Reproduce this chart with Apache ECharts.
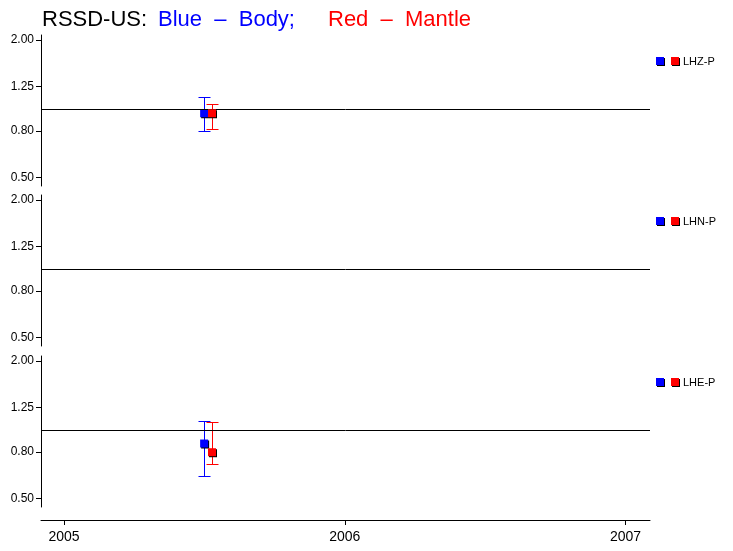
<!DOCTYPE html>
<html>
<head>
<meta charset="utf-8">
<script src="https://cdn.jsdelivr.net/npm/echarts@6/dist/echarts.min.js"></script>
<style>
  html, body { margin: 0; padding: 0; background: #fff; }
  #chart { width: 733px; height: 551px; }
</style>
</head>
<body>
<div id="chart"></div>
<script>
// channels, one panel each
const components = ['LHZ-P', 'LHN-P', 'LHE-P'];
// decimal year of the measurement (body / mantle drawn side by side)
const bodyTime = 2005.499;
const mantleTime = 2005.527;
// amplitude ratios per panel (null = no data)
const bodyValue = [0.956, null, 0.871];
const bodyLow = [0.799, null, 0.627];
const bodyHigh = [1.125, null, 1.095];
const mantleValue = [0.956, null, 0.798];
const mantleLow = [0.818, null, 0.710];
const mantleHigh = [1.048, null, 1.084];
// axis ticks
const yTicks = [0.5, 0.8, 1.25, 2.0];
const xTicks = [2005, 2006, 2007];

const BLUE = '#0000ff';
const RED = '#ff0000';
const FONT = 'Liberation Sans';

const panelTops = [35, 195, 356];
const panelHeight = 151;

function errorBar(color) {
  return function (params, api) {
    const x = api.value(0);
    const top = api.coord([x, api.value(2)]);
    const bot = api.coord([x, api.value(1)]);
    const px = Math.round(top[0]) + 0.5;
    const t = Math.round(top[1]) + 0.5;
    const b = Math.round(bot[1]) + 0.5;
    const st = { stroke: color, lineWidth: 1 };
    return {
      type: 'group',
      children: [
        { type: 'line', shape: { x1: px, y1: t, x2: px, y2: b }, style: st },
        { type: 'line', shape: { x1: px - 6, y1: t, x2: px + 6, y2: t }, style: st },
        { type: 'line', shape: { x1: px - 6, y1: b, x2: px + 6, y2: b }, style: st }
      ]
    };
  };
}

const grids = [], xAxes = [], yAxes = [], series = [], graphics = [];

components.forEach((name, i) => {
  grids.push({ left: 41, right: 83, top: panelTops[i], height: panelHeight });
  const last = i === components.length - 1;
  xAxes.push({
    type: 'value',
    gridIndex: i,
    min: 2004.918,
    max: 2007.087,
    show: last,
    offset: last ? 13 : 0,
    splitLine: { show: false },
    axisLine: { show: true, onZero: false, lineStyle: { color: '#000', width: 1 } },
    axisTick: { show: true, length: 5, customValues: xTicks, lineStyle: { color: '#000' } },
    axisLabel: {
      customValues: xTicks,
      color: '#000',
      fontFamily: FONT,
      fontSize: 14,
      margin: 10,
      formatter: v => String(Math.round(v))
    }
  });
  yAxes.push({
    type: 'log',
    gridIndex: i,
    min: 0.46,
    max: 2.1,
    splitLine: { show: false },
    axisLine: { show: true, lineStyle: { color: '#000', width: 1 } },
    axisTick: { show: true, length: 5, customValues: yTicks, lineStyle: { color: '#000' } },
    axisLabel: {
      customValues: yTicks,
      color: '#000',
      fontFamily: FONT,
      fontSize: 12,
      margin: 7,
      formatter: v => Number(v).toFixed(2)
    }
  });

  const hasData = bodyValue[i] != null;
  series.push({
    type: 'custom',
    xAxisIndex: i, yAxisIndex: i,
    renderItem: errorBar(BLUE),
    z: 2,
    data: hasData ? [[bodyTime, bodyLow[i], bodyHigh[i]]] : [],
    markLine: {
      silent: true,
      symbol: 'none',
      label: { show: false },
      lineStyle: { color: '#000', width: 1, type: 'solid' },
      data: [{ yAxis: 1 }]
    }
  });
  series.push({
    type: 'custom',
    xAxisIndex: i, yAxisIndex: i,
    renderItem: errorBar(RED),
    z: 3,
    data: hasData ? [[mantleTime, mantleLow[i], mantleHigh[i]]] : []
  });
  series.push({
    type: 'scatter',
    xAxisIndex: i, yAxisIndex: i,
    symbol: 'rect',
    symbolSize: 8,
    z: 4,
    itemStyle: { color: BLUE, opacity: 1, shadowColor: '#000', shadowOffsetX: 1, shadowOffsetY: 1, shadowBlur: 0 },
    data: hasData ? [[bodyTime, bodyValue[i]]] : []
  });
  series.push({
    type: 'scatter',
    xAxisIndex: i, yAxisIndex: i,
    symbol: 'rect',
    symbolSize: 8,
    z: 5,
    itemStyle: { color: RED, opacity: 1, shadowColor: '#000', shadowOffsetX: 1, shadowOffsetY: 1, shadowBlur: 0 },
    data: hasData ? [[mantleTime, mantleValue[i]]] : []
  });

  // per-panel key at the right
  const ly = panelTops[i] + 22;
  graphics.push(
    { type: 'rect', left: 656, top: ly, shape: { width: 8, height: 8 },
      style: { fill: BLUE, shadowColor: '#000', shadowOffsetX: 1, shadowOffsetY: 1 } },
    { type: 'rect', left: 671, top: ly, shape: { width: 8, height: 8 },
      style: { fill: RED, shadowColor: '#000', shadowOffsetX: 1, shadowOffsetY: 1 } },
    { type: 'text', left: 683, top: ly - 1,
      style: { text: name, fill: '#000', font: '11px "Liberation Sans"' } }
  );
});

const chart = echarts.init(document.getElementById('chart'));
chart.setOption({
  animation: false,
  backgroundColor: '#fff',
  title: {
    left: 37,
    top: 4,
    text: '{k|RSSD-US:}{b|Blue  \u2013  Body;}{r|Red  \u2013  Mantle}',
    textStyle: {
      fontFamily: FONT,
      fontSize: 22,
      fontWeight: 'normal',
      rich: {
        k: { color: '#000', fontFamily: FONT, fontSize: 22, width: 116 },
        b: { color: BLUE, fontFamily: FONT, fontSize: 22, width: 170 },
        r: { color: RED, fontFamily: FONT, fontSize: 22 }
      }
    }
  },
  grid: grids,
  xAxis: xAxes,
  yAxis: yAxes,
  series: series,
  graphic: graphics
});
</script>
</body>
</html>
